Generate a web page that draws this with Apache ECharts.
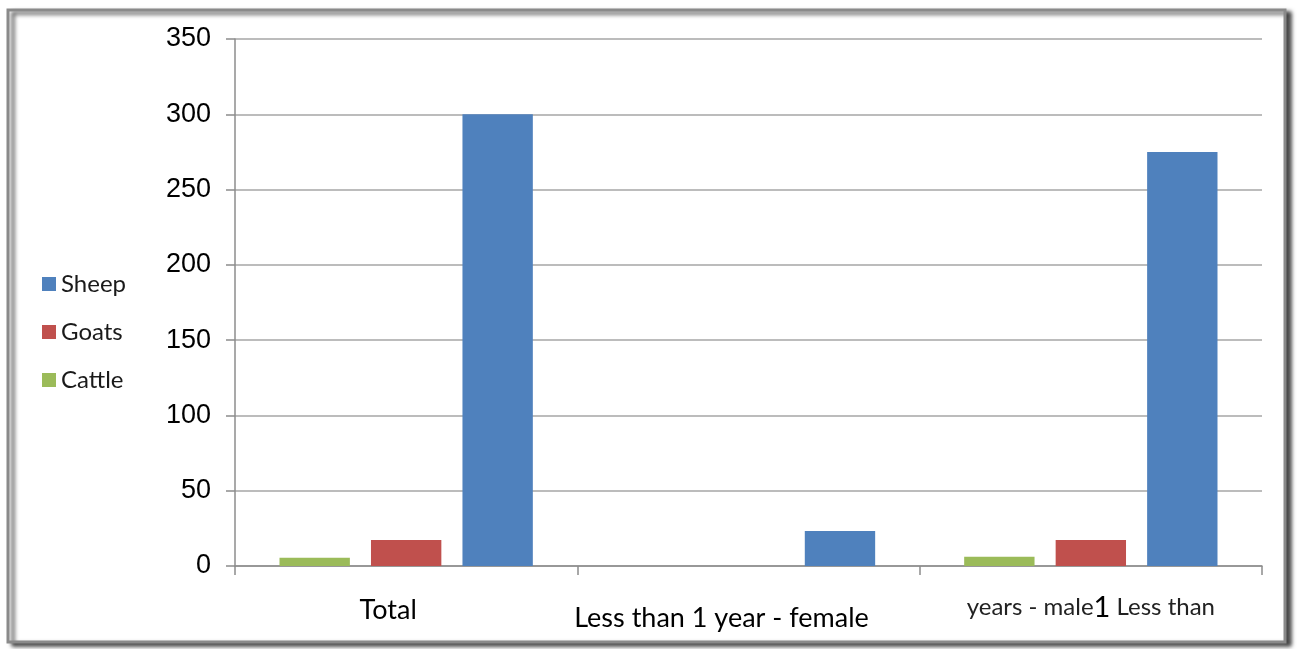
<!DOCTYPE html>
<html>
<head>
<meta charset="utf-8">
<script src="https://cdn.jsdelivr.net/npm/echarts@6/dist/echarts.min.js"></script>
<style>
  html, body { margin: 0; padding: 0; background: #ffffff; }
  #chart { width: 1298px; height: 649px; }
</style>
</head>
<body>
<div id="chart"></div>
<script>
// Livestock counts by group
const categories = ['Total', 'Less than 1 year - female', 'male years'];
const cattle = [5.5, 0, 6.2];
const goats = [17.3, 0, 17.3];
const sheep = [300, 23.2, 275];
const yTicks = { min: 0, max: 350, interval: 50 };

const colors = { Sheep: '#4f81bd', Goats: '#c0504d', Cattle: '#9bbb59' };

const chart = echarts.init(document.getElementById('chart'));

const catFont = 'Lato, "Open Sans", sans-serif';

chart.setOption({
  animation: false,
  graphic: [{
    type: 'rect',
    z: -10,
    shape: { x: 8, y: 10, width: 1277, height: 632 },
    style: {
      fill: '#ffffff',
      stroke: '#8a8a8a',
      lineWidth: 3,
      shadowColor: 'rgba(0,0,0,0.7)',
      shadowBlur: 4,
      shadowOffsetX: 5,
      shadowOffsetY: 3
    }
  }],
  grid: { left: 235, right: 36, top: 39, bottom: 83 },
  legend: {
    orient: 'vertical',
    left: 37,
    top: 267,
    itemWidth: 14,
    itemHeight: 14,
    itemGap: 24,
    icon: 'rect',
    data: ['Sheep', 'Goats', 'Cattle'],
    textStyle: { fontFamily: catFont, fontSize: 24, lineHeight: 24, color: '#1a1a1a', padding: [0, 0, 0, 0] }
  },
  xAxis: {
    type: 'category',
    data: categories,
    axisLine: { lineStyle: { color: '#8c8c8c', width: 1.5 } },
    axisTick: { show: true, length: 9, lineStyle: { color: '#8c8c8c', width: 1.5 } },
    axisLabel: {
      interval: 0,
      margin: 27,
      color: '#000',
      fontFamily: catFont,
      fontSize: 27,
      formatter: function (v, i) {
        if (i === 1) return '{f|' + v + '}';
        if (i === 2) return '{s|years - male}{b|1}{s| Less than}';
        return '{t|' + v + '}';
      },
      rich: {
        t: { fontFamily: catFont, fontSize: 27, color: '#000', padding: [4, 36, 0, 0] },
        f: { fontFamily: catFont, fontSize: 27, color: '#000', padding: [12, 54, 0, 0] },
        s: { fontFamily: catFont, fontSize: 24, color: '#222' },
        b: { fontFamily: catFont, fontSize: 29, color: '#000' }
      }
    },
    splitLine: { show: false }
  },
  yAxis: {
    type: 'value',
    min: yTicks.min,
    max: yTicks.max,
    interval: yTicks.interval,
    axisLine: { show: true, lineStyle: { color: '#8c8c8c', width: 1.5 } },
    axisTick: { show: true, length: 9, lineStyle: { color: '#8c8c8c', width: 1.5 } },
    axisLabel: {
      margin: 24,
      color: '#000',
      fontFamily: '"Liberation Sans", Arial, sans-serif',
      fontSize: 27
    },
    splitLine: { lineStyle: { color: '#a6a6a6', width: 1.5 } }
  },
  series: [
    { name: 'Cattle', type: 'bar', data: cattle, barGap: '30%', barCategoryGap: '26%',
      itemStyle: { color: colors.Cattle } },
    { name: 'Goats', type: 'bar', data: goats, barGap: '30%', barCategoryGap: '26%',
      itemStyle: { color: colors.Goats } },
    { name: 'Sheep', type: 'bar', data: sheep, barGap: '30%', barCategoryGap: '26%',
      itemStyle: { color: colors.Sheep } }
  ]
});
</script>
</body>
</html>
